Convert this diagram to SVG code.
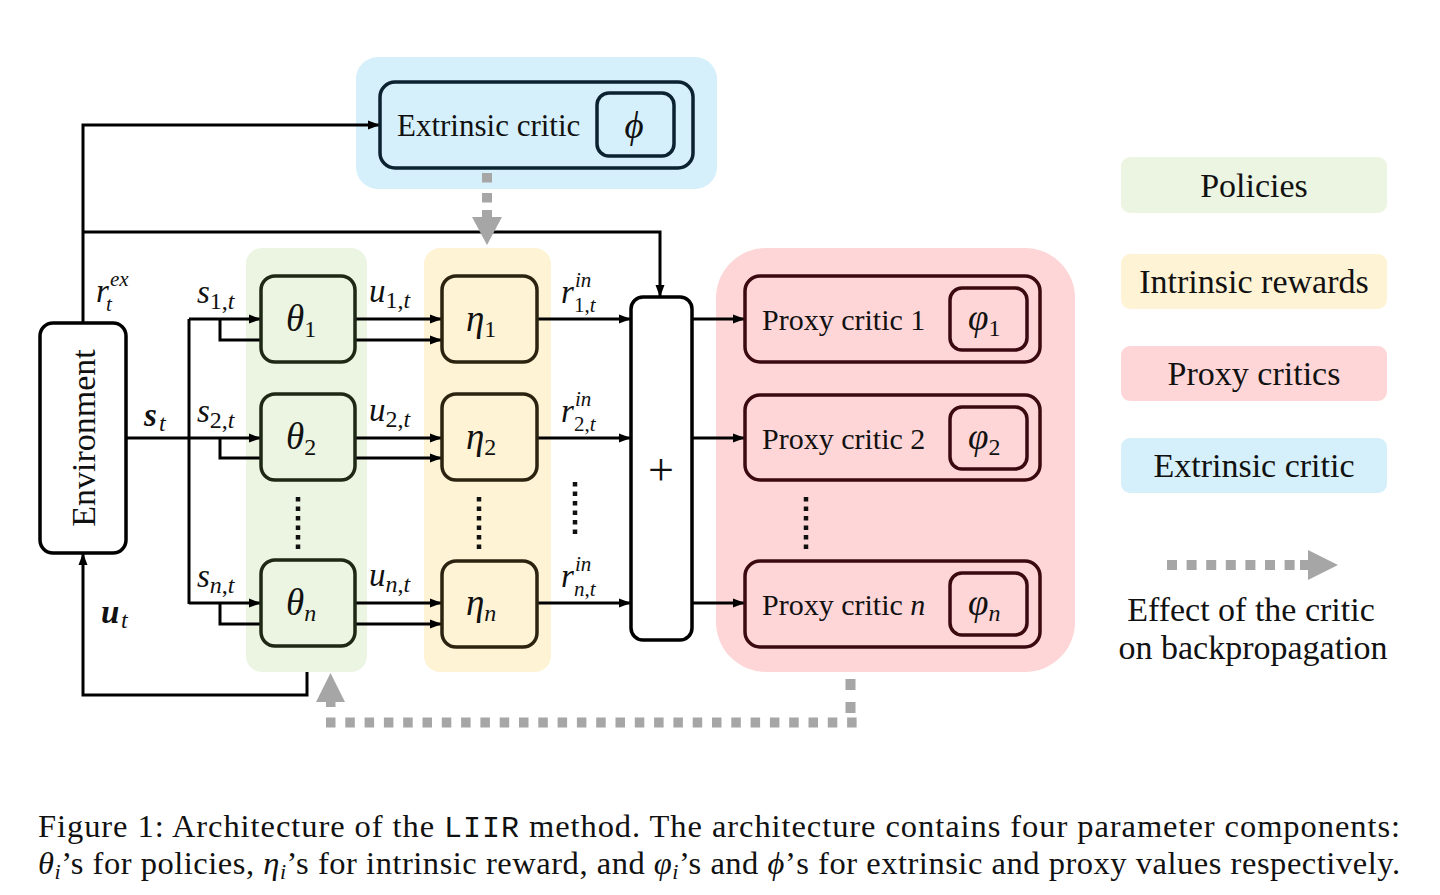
<svg xmlns="http://www.w3.org/2000/svg" width="1440" height="895" viewBox="0 0 1440 895">
<style>
.t{font-family:"Liberation Serif","Times New Roman",serif;fill:#111}
.m{font-family:"Liberation Serif","Times New Roman",serif;font-style:italic;font-size:37px;fill:#111}
.ms{font-family:"Liberation Serif","Times New Roman",serif;font-style:italic;font-size:33px;fill:#111}
.sb{font-style:normal;font-size:24px}
.si{font-style:italic;font-size:24px}
.ss{font-style:italic;font-size:21px}
.sn{font-style:normal;font-size:21px}
.bold{font-weight:bold}
.box{fill:none;stroke-width:3.5}
.ln{fill:none;stroke:#000;stroke-width:3}
.dot{fill:none;stroke:#111;stroke-width:4.5;stroke-dasharray:4.5 5}
.gray{fill:none;stroke:#a6a6a6;stroke-width:10}
.lg{font-family:"Liberation Serif","Times New Roman",serif;font-size:34px;fill:#111;text-anchor:middle}
</style>
<defs>
<marker id="ah" markerUnits="userSpaceOnUse" markerWidth="13" markerHeight="10" refX="12" refY="5" orient="auto">
<path d="M0,0.5 L12,5 L0,9.5 Z" fill="#000"/>
</marker>
</defs>
<rect width="1440" height="895" fill="#fff"/>

<!-- group backgrounds -->
<g id="backgrounds">
<rect x="356" y="57" width="361" height="132" rx="22" fill="#d5f0fb"/>
<rect x="246" y="248" width="121" height="424" rx="16" fill="#ebf5e1"/>
<rect x="424" y="248" width="127" height="424" rx="16" fill="#fff3d6"/>
<rect x="716" y="248" width="359" height="424" rx="50" fill="#ffd6d8"/>
</g>

<!-- connectors -->
<g id="connectors" class="ln">
<path class="ln" d="M83,323 V125 H380" marker-end="url(#ah)"/>
<path class="ln" d="M83,232 H660 V297" marker-end="url(#ah)"/>
<path class="ln" d="M126,438 H261" marker-end="url(#ah)"/>
<path class="ln" d="M189,319 V604"/>
<path class="ln" d="M189,319 H261" marker-end="url(#ah)"/>
<path class="ln" d="M189,603 H261" marker-end="url(#ah)"/>
<path class="ln" d="M220,319 V340 H261"/>
<path class="ln" d="M220,438 V458 H261"/>
<path class="ln" d="M220,603 V624 H261"/>
<path class="ln" d="M355,319 H442" marker-end="url(#ah)"/>
<path class="ln" d="M355,340 H442" marker-end="url(#ah)"/>
<path class="ln" d="M355,438 H442" marker-end="url(#ah)"/>
<path class="ln" d="M355,458 H442" marker-end="url(#ah)"/>
<path class="ln" d="M355,603 H442" marker-end="url(#ah)"/>
<path class="ln" d="M355,624 H442" marker-end="url(#ah)"/>
<path class="ln" d="M537,319 H631" marker-end="url(#ah)"/>
<path class="ln" d="M537,438 H631" marker-end="url(#ah)"/>
<path class="ln" d="M537,603 H631" marker-end="url(#ah)"/>
<path class="ln" d="M692,319 H745" marker-end="url(#ah)"/>
<path class="ln" d="M692,438 H745" marker-end="url(#ah)"/>
<path class="ln" d="M692,603 H745" marker-end="url(#ah)"/>
<path class="ln" d="M307,672 V695 H83 V553" marker-end="url(#ah)"/>
</g>

<!-- edge labels -->
<g id="labels">
<text class="ms" x="96" y="302">r</text><text class="ms" x="110" y="286"><tspan class="ss">ex</tspan></text><text class="ms" x="106" y="311"><tspan class="ss">t</tspan></text>
<text class="ms bold" x="144" y="426">s</text><text class="ms" x="159" y="431"><tspan class="si">t</tspan></text>
<text class="ms bold" x="101" y="623">u</text><text class="ms" x="121" y="628"><tspan class="si">t</tspan></text>

<text class="ms" x="197" y="303">s<tspan class="sb" dy="6">1,</tspan><tspan class="si">t</tspan></text>
<text class="ms" x="197" y="422">s<tspan class="sb" dy="6">2,</tspan><tspan class="si">t</tspan></text>
<text class="ms" x="197" y="587">s<tspan class="si" dy="6">n</tspan><tspan class="sb">,</tspan><tspan class="si">t</tspan></text>

<text class="ms" x="369" y="302">u<tspan class="sb" dy="6">1,</tspan><tspan class="si">t</tspan></text>
<text class="ms" x="369" y="421">u<tspan class="sb" dy="6">2,</tspan><tspan class="si">t</tspan></text>
<text class="ms" x="369" y="586">u<tspan class="si" dy="6">n</tspan><tspan class="sb">,</tspan><tspan class="si">t</tspan></text>

<text class="ms" x="561" y="303">r</text><text class="ms" x="575" y="287"><tspan class="ss">in</tspan></text><text class="ms" x="574" y="312"><tspan class="sn">1,</tspan><tspan class="ss">t</tspan></text>
<text class="ms" x="561" y="422">r</text><text class="ms" x="575" y="406"><tspan class="ss">in</tspan></text><text class="ms" x="574" y="431"><tspan class="sn">2,</tspan><tspan class="ss">t</tspan></text>
<text class="ms" x="561" y="587">r</text><text class="ms" x="575" y="571"><tspan class="ss">in</tspan></text><text class="ms" x="574" y="596"><tspan class="ss">n</tspan><tspan class="sn">,</tspan><tspan class="ss">t</tspan></text>
</g>

<!-- ellipsis dots -->
<g id="dots">
<path class="dot" d="M298,497 V553"/>
<path class="dot" d="M479,497 V553"/>
<path class="dot" d="M575,482 V538"/>
<path class="dot" d="M806,497 V553"/>
</g>

<!-- nodes -->
<g id="environment">
<rect x="40" y="323" width="86" height="230" rx="13" fill="#fff" stroke="#000" stroke-width="3.5"/>
<text class="t" font-size="34" text-anchor="middle" transform="translate(95,438) rotate(-90)">Environment</text>
</g>

<g id="extrinsic-critic">
<rect class="box" x="380" y="82" width="313" height="86" rx="15" stroke="#0b2230"/>
<rect class="box" x="597" y="93" width="77" height="63" rx="12" stroke="#0b2230"/>
<text class="t" font-size="31" x="397" y="136">Extrinsic critic</text>
<text class="m" font-size="40" x="634" y="138" text-anchor="middle">ϕ</text>
</g>

<g id="theta1"><rect class="box" x="261" y="276" width="94" height="86" rx="14" stroke="#1e2814"/><text class="m" x="286" y="331">θ<tspan class="sb" dy="6">1</tspan></text></g>
<g id="theta2"><rect class="box" x="261" y="394" width="94" height="86" rx="14" stroke="#1e2814"/><text class="m" x="286" y="449">θ<tspan class="sb" dy="6">2</tspan></text></g>
<g id="thetan"><rect class="box" x="261" y="560" width="94" height="86" rx="14" stroke="#1e2814"/><text class="m" x="286" y="615">θ<tspan class="si" dy="6">n</tspan></text></g>

<g id="eta1"><rect class="box" x="442" y="276" width="95" height="86" rx="14" stroke="#2b2310"/><text class="m" x="466" y="331">η<tspan class="sb" dy="6">1</tspan></text></g>
<g id="eta2"><rect class="box" x="442" y="394" width="95" height="86" rx="14" stroke="#2b2310"/><text class="m" x="466" y="449">η<tspan class="sb" dy="6">2</tspan></text></g>
<g id="etan"><rect class="box" x="442" y="561" width="95" height="86" rx="14" stroke="#2b2310"/><text class="m" x="466" y="615">η<tspan class="si" dy="6">n</tspan></text></g>

<g id="sum">
<rect x="631" y="297" width="61" height="343" rx="12" fill="#fff" stroke="#000" stroke-width="3.5"/>
<text class="t" font-size="46" x="661" y="485" text-anchor="middle">+</text>
</g>

<g id="proxy1"><rect class="box" x="745" y="276" width="295" height="86" rx="15" stroke="#3b0a10"/><rect class="box" x="950" y="288" width="77" height="62" rx="12" stroke="#3b0a10"/><text class="t" font-size="30" x="762" y="330">Proxy critic 1</text><text class="m" x="968" y="330">φ<tspan class="sb" dy="6">1</tspan></text></g>
<g id="proxy2"><rect class="box" x="745" y="395" width="295" height="85" rx="15" stroke="#3b0a10"/><rect class="box" x="950" y="407" width="77" height="62" rx="12" stroke="#3b0a10"/><text class="t" font-size="30" x="762" y="449">Proxy critic 2</text><text class="m" x="968" y="449">φ<tspan class="sb" dy="6">2</tspan></text></g>
<g id="proxyn"><rect class="box" x="745" y="561" width="295" height="86" rx="15" stroke="#3b0a10"/><rect class="box" x="950" y="573" width="77" height="62" rx="12" stroke="#3b0a10"/><text class="t" font-size="30" x="762" y="615">Proxy critic <tspan font-style="italic">n</tspan></text><text class="m" x="968" y="615">φ<tspan class="si" dy="6">n</tspan></text></g>

<!-- backprop effect (gray dashed) -->
<g id="backprop">
<path class="gray" d="M487,173 V205" stroke-dasharray="9.5 10.5"/>
<rect x="482" y="210" width="10" height="8" fill="#a6a6a6"/>
<polygon points="472,217 502,217 487,245" fill="#a6a6a6"/>
<path class="gray" d="M850.5,679 V714" stroke-dasharray="11 12"/>
<path class="gray" d="M326,722.5 H857" stroke-dasharray="9.5 9.8"/>
<rect x="326" y="700" width="9.5" height="7" fill="#a6a6a6"/>
<polygon points="316,702 345,702 330.5,673" fill="#a6a6a6"/>
</g>

<!-- legend -->
<g id="legend">
<rect x="1121" y="157" width="266" height="56" rx="9" fill="#ebf5e1"/>
<text class="lg" x="1254" y="197">Policies</text>
<rect x="1121" y="254" width="266" height="55" rx="9" fill="#fff3d6"/>
<text class="lg" x="1254" y="293">Intrinsic rewards</text>
<rect x="1121" y="346" width="266" height="55" rx="9" fill="#ffd6d8"/>
<text class="lg" x="1254" y="385">Proxy critics</text>
<rect x="1121" y="438" width="266" height="55" rx="9" fill="#d5f0fb"/>
<text class="lg" x="1254" y="477">Extrinsic critic</text>
<path class="gray" d="M1167,565 H1300" stroke-dasharray="10 9.6"/>
<rect x="1300" y="560" width="9" height="10" fill="#a6a6a6"/>
<polygon points="1308,550 1338,565 1308,580" fill="#a6a6a6"/>
<text class="lg" font-size="29" x="1251" y="621">Effect of the critic</text>
<text class="lg" font-size="29" x="1253" y="659">on backpropagation</text>
</g>

<!-- caption -->
<g id="caption">
<text class="t" font-size="32.5" x="38" y="837" textLength="1362" lengthAdjust="spacing">Figure 1: Architecture of the <tspan font-family="'Liberation Mono',monospace" font-size="30">LIIR</tspan> method. The architecture contains four parameter components:</text>
<text class="t" font-size="32.5" x="38" y="874" textLength="1362" lengthAdjust="spacing"><tspan font-style="italic">θ</tspan><tspan font-style="italic" font-size="22" dy="5">i</tspan><tspan dy="-5">’s for policies, </tspan><tspan font-style="italic">η</tspan><tspan font-style="italic" font-size="22" dy="5">i</tspan><tspan dy="-5">’s for intrinsic reward, and </tspan><tspan font-style="italic">φ</tspan><tspan font-style="italic" font-size="22" dy="5">i</tspan><tspan dy="-5">’s and </tspan><tspan font-style="italic">ϕ</tspan>’s for extrinsic and proxy values respectively.</text>
</g>
</svg>
